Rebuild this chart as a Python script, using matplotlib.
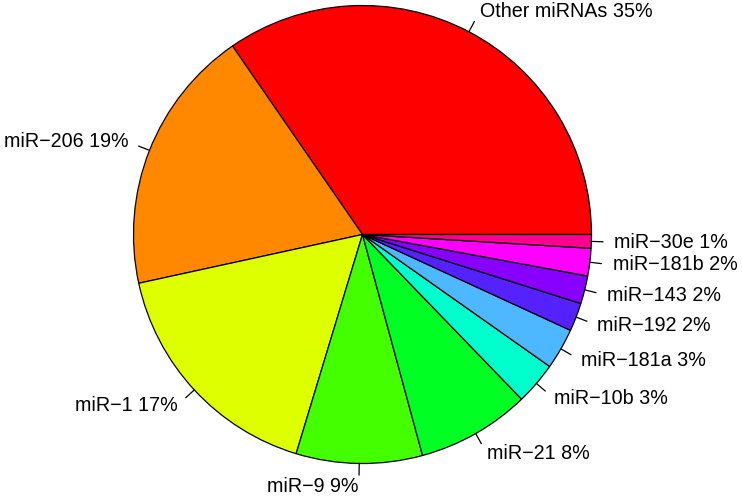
import numpy as np
import matplotlib
matplotlib.use("Agg")
import matplotlib.pyplot as plt

# --- dados (percentagens aproximadas)
nomes = ["Other miRNAs", "miR\u2212206", "miR\u22121", "miR\u22129", "miR\u221221",
         "miR\u221210b", "miR\u2212181a", "miR\u2212192", "miR\u2212143",
         "miR\u2212181b", "miR\u221230e"]
valores = [34.6, 18.8, 16.9, 8.9, 8.0, 3.0, 2.9, 2.0, 1.97, 1.94, 0.96]
pct_rotulo = [35, 19, 17, 9, 8, 3, 3, 2, 2, 2, 1]
cores = ["#FF0000", "#FF8800", "#DDFF00", "#44FF00", "#00FF22", "#00FFCC",
         "#4DB8FF", "#5522FF", "#8800FF", "#FF00FF", "#FF0090"]

rotulos = [f"{n} {p}%" for n, p in zip(nomes, pct_rotulo)]

plt.rcParams['font.family'] = ['Liberation Sans', 'DejaVu Sans']

fig = plt.figure(figsize=(7.42, 4.98), dpi=100)
ax = fig.add_axes([0, 0, 1, 1])

wedges, textos = ax.pie(valores, labels=rotulos, colors=cores, startangle=0,
                        counterclock=True, labeldistance=1.1,
                        wedgeprops=dict(edgecolor='black', linewidth=0.9),
                        textprops=dict(fontsize=14.2))

# pequenos tracos entre a fatia e o rotulo (estilo R)
for w in wedges:
    ang = np.deg2rad((w.theta1 + w.theta2) / 2)
    ax.plot([np.cos(ang), 1.05 * np.cos(ang)], [np.sin(ang), 1.05 * np.sin(ang)],
            color='black', linewidth=0.9)

# posiciona o centro e o raio como na figura original
r_px, cx, cy = 229.0, 362.5, 234.5
ax.set_xlim(-cx / r_px, (742 - cx) / r_px)
ax.set_ylim(-(498 - cy) / r_px, cy / r_px)
ax.set_aspect('auto')
ax.axis('off')

fig.savefig("out.png", dpi=100)
